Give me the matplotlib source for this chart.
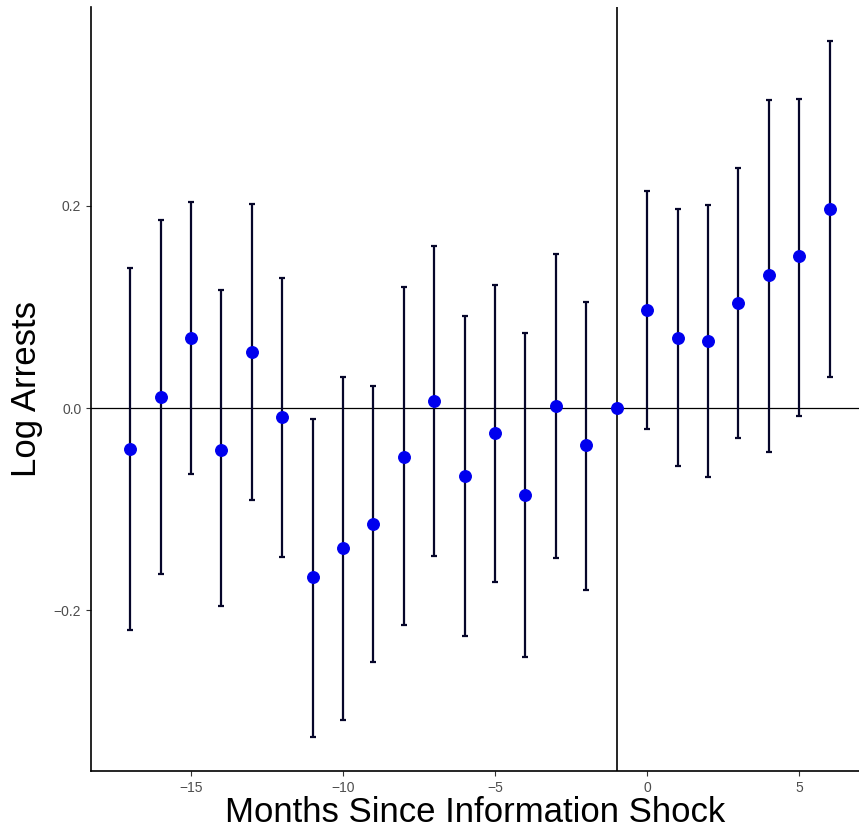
import numpy as np
import matplotlib.pyplot as plt

# event-study estimates
months = [-17, -16, -15, -14, -13, -12, -11, -10, -9, -8, -7, -6, -5, -4, -3, -2,
          -1, 0, 1, 2, 3, 4, 5, 6]
estimate = [-0.040, 0.011, 0.069, -0.041, 0.055, -0.009, -0.167, -0.138, -0.115,
            -0.048, 0.007, -0.067, -0.025, -0.086, 0.002, -0.037,
            0.000, 0.097, 0.069, 0.066, 0.104, 0.132, 0.150, 0.197]
ci_low = [-0.219, -0.164, -0.065, -0.196, -0.091, -0.147, -0.325, -0.308, -0.251,
          -0.215, -0.146, -0.225, -0.172, -0.246, -0.148, -0.180,
          0.000, -0.021, -0.057, -0.068, -0.030, -0.043, -0.008, 0.031]
ci_high = [0.139, 0.186, 0.204, 0.117, 0.202, 0.129, -0.011, 0.031, 0.022,
           0.120, 0.160, 0.091, 0.122, 0.074, 0.152, 0.105,
           0.000, 0.215, 0.197, 0.201, 0.237, 0.305, 0.306, 0.363]

x_ticks = [-15, -10, -5, 0, 5]
y_ticks = [-0.2, 0.0, 0.2]
y_tick_labels = ['\u22120.2', '0.0', '0.2']

plt.rcParams['font.family'] = ['Liberation Sans', 'DejaVu Sans']

fig = plt.figure(figsize=(8.59, 8.30), dpi=100)
ax = fig.add_axes([0.106, 0.071, 0.894, 0.921])

x = np.array(months)
est = np.array(estimate)
lo = np.array(ci_low)
hi = np.array(ci_high)
has_ci = hi > lo

# reference lines
ax.axhline(0, color='black', linewidth=0.9, zorder=1)
ax.axvline(-1, color='black', linewidth=1.2, zorder=1)

# confidence intervals
ax.errorbar(x[has_ci], est[has_ci],
            yerr=[est[has_ci] - lo[has_ci], hi[has_ci] - est[has_ci]],
            fmt='none', ecolor='#06062a', elinewidth=1.6, capsize=2.2,
            capthick=1.6, zorder=2)

# point estimates
ax.plot(x, est, 'o', color='#0000ee', markersize=8.3, zorder=3)

ax.set_xlim(-18.29, 6.97)
ax.set_ylim(-0.359, 0.397)
ax.set_xticks(x_ticks)
ax.set_xticklabels(['\u221215', '\u221210', '\u22125', '0', '5'])
ax.set_yticks(y_ticks)
ax.set_yticklabels(y_tick_labels)

ax.set_xlabel('Months Since Information Shock', fontsize=25, labelpad=1)
ax.set_ylabel('Log Arrests', fontsize=25, labelpad=8)

for side in ['top', 'right']:
    ax.spines[side].set_visible(False)
for side in ['left', 'bottom']:
    ax.spines[side].set_linewidth(1.2)
    ax.spines[side].set_color('black')

ax.tick_params(axis='both', colors='#333333', labelcolor='#4d4d4d',
               labelsize=10, length=3.5, width=0.8)

fig.savefig('out.png', dpi=100)
